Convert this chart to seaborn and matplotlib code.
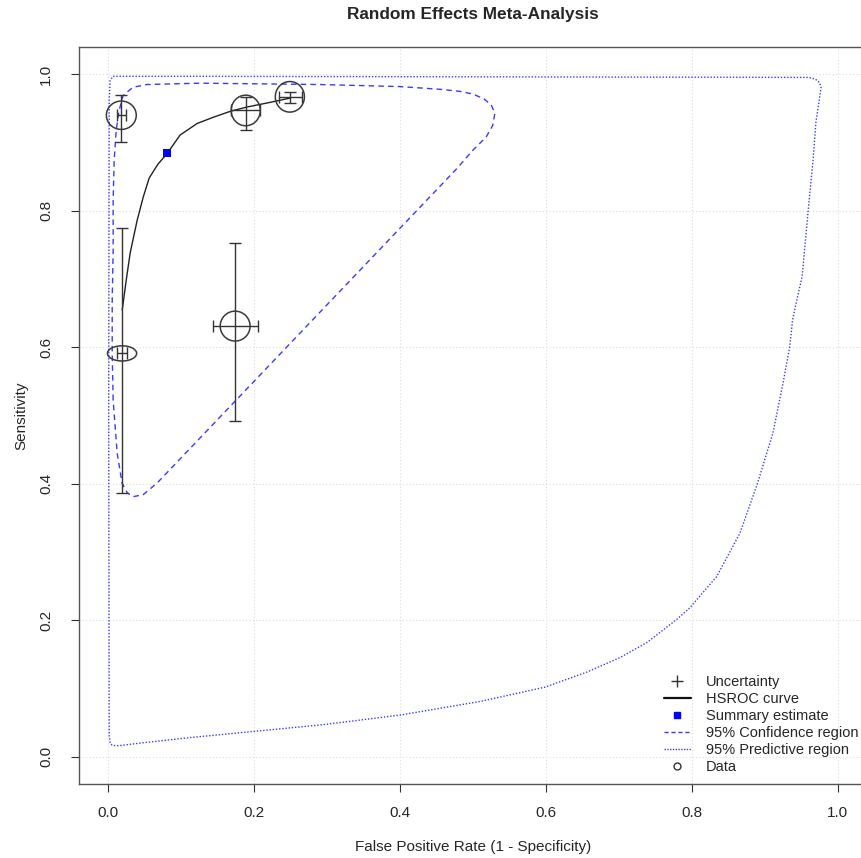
import numpy as np
import pandas as pd
import matplotlib
matplotlib.use("Agg")
import matplotlib.pyplot as plt
import seaborn as sns
from matplotlib.path import Path
from matplotlib.lines import Line2D

# ---------------- data ----------------
# study points (false positive rate, sensitivity) with uncertainty intervals
study_fpr = [0.018, 0.1885, 0.249, 0.174, 0.019]
study_sens = [0.940, 0.947, 0.967, 0.631, 0.591]
fpr_lo = [0.012, 0.168, 0.234, 0.144, 0.012]
fpr_hi = [0.025, 0.208, 0.265, 0.205, 0.026]
sens_lo = [0.901, 0.919, 0.958, 0.492, 0.387]
sens_hi = [0.969, 0.966, 0.974, 0.753, 0.775]

# HSROC curve
hsroc_fpr = [0.0192, 0.0247, 0.0301, 0.0397, 0.0480, 0.0562, 0.0680, 0.0808,
             0.0986, 0.122, 0.144, 0.168, 0.190, 0.218, 0.249]
hsroc_sens = [0.6545, 0.698, 0.738, 0.786, 0.820, 0.848, 0.868, 0.884,
              0.911, 0.928, 0.937, 0.946, 0.952, 0.958, 0.965]

# summary estimate
summary_fpr = [0.081]
summary_sens = [0.884]

# 95% confidence region
conf_fpr = [0.0068, 0.0055, 0.0055, 0.0068, 0.0068, 0.0082, 0.011, 0.015, 0.0205,
            0.034, 0.053, 0.126, 0.290, 0.400, 0.455, 0.482, 0.500, 0.515, 0.525, 0.530,
            0.527, 0.518, 0.500, 0.478, 0.067, 0.048, 0.034, 0.026, 0.019, 0.0123, 0.0068]
conf_sens = [0.5227, 0.5915, 0.669, 0.742, 0.8155, 0.874, 0.918, 0.947, 0.969,
             0.981, 0.985, 0.987, 0.985, 0.982, 0.978, 0.975, 0.971, 0.964, 0.955, 0.943,
             0.925, 0.908, 0.889, 0.862, 0.401, 0.384, 0.381, 0.387, 0.401, 0.445, 0.5227]

# 95% predictive region
pred_fpr = [0.0068, 0.126, 0.893, 0.960, 0.969, 0.975, 0.977, 0.975, 0.970, 0.966,
            0.959, 0.951, 0.944, 0.938, 0.934, 0.925, 0.911, 0.890, 0.866, 0.834,
            0.797, 0.779, 0.738, 0.701, 0.656, 0.599, 0.510, 0.400, 0.295, 0.199,
            0.112, 0.044, 0.0137, 0.0060, 0.0030, 0.0014, 0.0007, 0.0014, 0.0027, 0.0068]
pred_sens = [0.997, 0.997, 0.9956, 0.9954, 0.993, 0.988, 0.981, 0.965, 0.930, 0.874,
             0.796, 0.703, 0.670, 0.640, 0.600, 0.548, 0.474, 0.401, 0.328, 0.264,
             0.218, 0.201, 0.167, 0.145, 0.124, 0.102, 0.081, 0.061, 0.047, 0.037,
             0.028, 0.020, 0.016, 0.0165, 0.019, 0.030, 0.523, 0.962, 0.991, 0.997]

ticks = [0.0, 0.2, 0.4, 0.6, 0.8, 1.0]
tick_labels = ["0.0", "0.2", "0.4", "0.6", "0.8", "1.0"]
legend_labels = ["Uncertainty", "HSROC curve", "Summary estimate",
                 "95% Confidence region", "95% Predictive region", "Data"]

# marker shapes for data (diameter in points, vertical/horizontal aspect)
marker_diam = [21.5, 22.0, 22.0, 21.5, 21.0]
marker_aspect = [0.95, 1.05, 1.05, 1.0, 0.52]

# ---------------- plot ----------------
sns.set_style("white")
plt.rcParams["font.family"] = ["Liberation Sans", "DejaVu Sans"]

W, H = 861, 858
fig = plt.figure(figsize=(W / 100, H / 100), dpi=100)
ax = fig.add_axes([79 / W, 74 / H, 788 / W, 737 / H])
ax.set_xlim(-0.04, 1.04)
ax.set_ylim(-0.04, 1.04)

# grid
for t in ticks:
    ax.axvline(t, color="#dcdcdc", lw=0.8, ls=(0, (1, 2)), zorder=0)
    ax.axhline(t, color="#dcdcdc", lw=0.8, ls=(0, (1, 2)), zorder=0)

blue = "#3a3aff"
df_pred = pd.DataFrame({"fpr": pred_fpr, "sens": pred_sens})
sns.lineplot(data=df_pred, x="fpr", y="sens", sort=False, estimator=None,
             color=blue, lw=1.0, ls=(0, (1, 1.3)), ax=ax, zorder=2)
df_conf = pd.DataFrame({"fpr": conf_fpr, "sens": conf_sens})
sns.lineplot(data=df_conf, x="fpr", y="sens", sort=False, estimator=None,
             color=blue, lw=1.0, ls=(0, (4, 3)), ax=ax, zorder=2)

df_h = pd.DataFrame({"fpr": hsroc_fpr, "sens": hsroc_sens})
sns.lineplot(data=df_h, x="fpr", y="sens", sort=False, estimator=None,
             color="#222222", lw=1.0, ax=ax, zorder=3)

# uncertainty crosses
xerr = [np.array(study_fpr) - np.array(fpr_lo), np.array(fpr_hi) - np.array(study_fpr)]
yerr = [np.array(study_sens) - np.array(sens_lo), np.array(sens_hi) - np.array(study_sens)]
ax.errorbar(study_fpr, study_sens, xerr=xerr, yerr=yerr, fmt="none",
            ecolor="#333333", elinewidth=1.0, capsize=4, capthick=1.0, zorder=3)

# data circles/ellipses
t = np.linspace(0, 2 * np.pi, 120)
for xv, yv, d, a in zip(study_fpr, study_sens, marker_diam, marker_aspect):
    if a <= 1:
        verts = np.column_stack([np.cos(t), a * np.sin(t)])
    else:
        verts = np.column_stack([np.cos(t) / a, np.sin(t)])
    ax.scatter([xv], [yv], marker=Path(verts, closed=True), s=d ** 2,
               facecolors="none", edgecolors="#3a3a3a", linewidths=1.1, zorder=4)

# summary estimate
sns.scatterplot(x=summary_fpr, y=summary_sens, marker="s", s=36, color="#0000ff",
                edgecolor="#0000ff", linewidth=0, ax=ax, zorder=5)

# axes styling
fs = 11
ax.set_xticks(ticks)
ax.set_yticks(ticks)
ax.set_xticklabels(tick_labels, fontsize=fs)
ax.set_yticklabels(tick_labels, fontsize=fs, rotation=90, va="center")
ax.tick_params(axis="both", direction="out", length=5.5, width=0.8, color="#333333",
               bottom=True, left=True)
ax.tick_params(axis="x", pad=10)
ax.tick_params(axis="y", pad=13)
for s in ax.spines.values():
    s.set_visible(True)
    s.set_color("#555555")
    s.set_linewidth(1.0)
ax.set_xlabel("False Positive Rate (1 - Specificity)", fontsize=fs, labelpad=15)
ax.set_ylabel("Sensitivity", fontsize=fs, labelpad=8)
fig.text(473 / W, 1 - 15 / H, "Random Effects Meta-Analysis", ha="center", va="center",
         fontsize=12.4, fontweight="bold")

handles = [
    Line2D([], [], ls="none", marker="+", color="#333333", markersize=9, mew=1.0),
    Line2D([], [], color="#111111", lw=1.6),
    Line2D([], [], ls="none", marker="s", color="#0000ff", markersize=5),
    Line2D([], [], color=blue, lw=1.0, ls=(0, (3, 2))),
    Line2D([], [], color=blue, lw=1.0, ls=(0, (1, 1))),
    Line2D([], [], ls="none", marker="o", mfc="none", mec="#333333", markersize=5),
]
ax.legend(handles, legend_labels, loc="upper left", bbox_to_anchor=(664 / W, 1 - 675 / H),
          bbox_transform=fig.transFigure, frameon=False, fontsize=10.5, borderpad=0,
          labelspacing=0.21, handlelength=1.85, handletextpad=1.0, borderaxespad=0)

fig.savefig("out.png", dpi=100)
